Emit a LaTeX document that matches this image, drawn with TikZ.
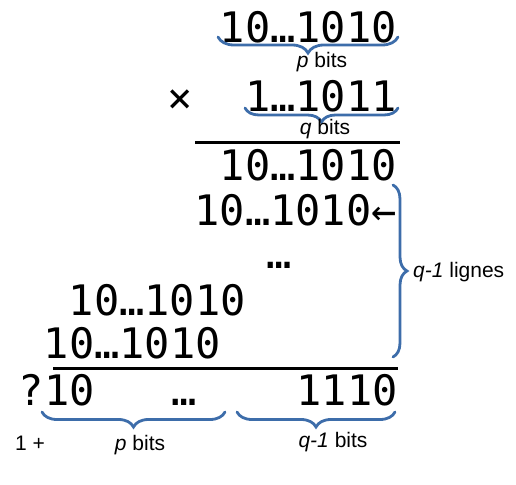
\documentclass[tikz,border=0pt]{standalone}
\usepackage{fontspec}
\setmainfont{Liberation Sans}
\newfontfamily\monof{DejaVu Sans Mono}
\usetikzlibrary{decorations.pathreplacing}
\definecolor{braceblue}{HTML}{3D6DAA}
\begin{document}
\begin{tikzpicture}[x=1pt,y=-1pt,
  num/.style={font=\monof\fontsize{42}{42}\selectfont, inner sep=0pt, anchor=base east},
  numc/.style={font=\monof\fontsize{42}{42}\selectfont, inner sep=0pt},
  lab/.style={font=\fontsize{21}{21}\selectfont, inner sep=0pt, anchor=base},
  bbrace/.style={draw=braceblue, line width=2.8pt, line cap=round, decorate, decoration={brace, amplitude=#1}},
  rulel/.style={line width=3pt}]
\useasboundingbox (0,0) rectangle (516,484);
% rows
\node[num] (r1) at (397,43) {10…1010};
\node[numc, anchor=center] (times) at (180,101) {×};
\node[num] (r2) at (397,112) {1…1011};
\node[num] (r3) at (397,180) {10…1010};
\node[num] (r4) at (397,225) {10…1010←};
\node[numc, anchor=base] (mdots) at (279,268) {…};
\node[num] (r5) at (246,315) {10…1010};
\node[num] (r6) at (221,358) {10…1010};
\node[num] (q10) at (95,405) {?10};
\node[numc, anchor=base] (bdots) at (184,405) {…};
\node[num] (b1110) at (398,405) {1110};
% rules
\coordinate (l1a) at (195,142); \coordinate (l1b) at (400,142);
\coordinate (l2a) at (53,368);  \coordinate (l2b) at (398,368);
\draw[rulel] (l1a) -- (l1b);
\draw[rulel] (l2a) -- (l2b);
% braces
\coordinate (b1a) at (398,37); \coordinate (b1b) at (218,37);
\coordinate (b2a) at (398,108); \coordinate (b2b) at (245,108);
\coordinate (b3a) at (393,185); \coordinate (b3b) at (393,357);
\coordinate (b4a) at (225,412); \coordinate (b4b) at (42,412);
\coordinate (b5a) at (395,412); \coordinate (b5b) at (237,412);
\draw[bbrace=16pt] (b1a) -- (b1b);
\draw[bbrace=14pt] (b2a) -- (b2b);
\draw[bbrace=14pt] (b3a) -- (b3b);
\draw[bbrace=15pt] (b4a) -- (b4b);
\draw[bbrace=15pt] (b5a) -- (b5b);
% labels
\node[lab] (pb1) at (322,68) {\textit{p} bits};
\node[lab] (qb1) at (325,135) {\textit{q} bits};
\node[lab, anchor=base west] (ql) at (413,277) {\textit{q-1} lignes};
\node[lab, anchor=base west] (one) at (15,450) {1 +};
\node[lab] (pb2) at (140,450) {\textit{p} bits};
\node[lab] (qb2) at (333,447) {\textit{q-1} bits};
\end{tikzpicture}
\end{document}
